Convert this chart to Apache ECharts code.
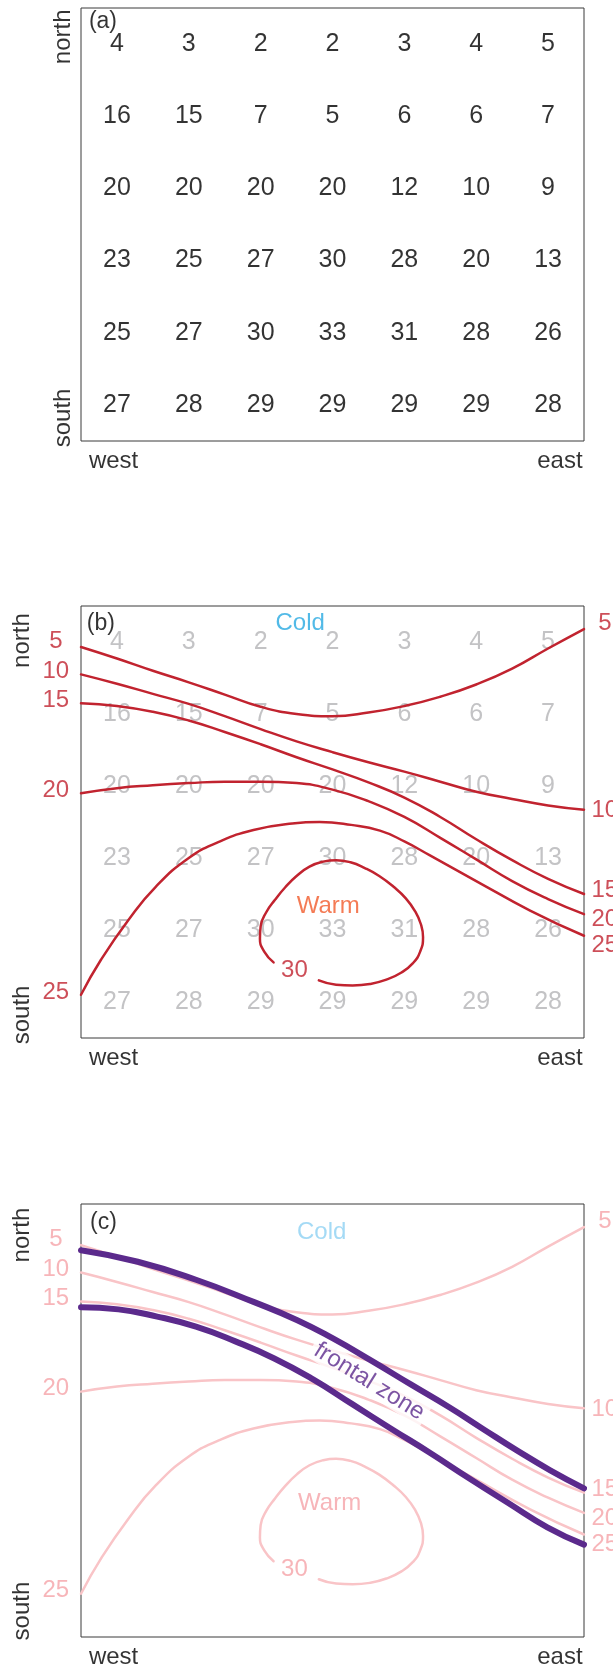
<!DOCTYPE html>
<html><head><meta charset="utf-8">
<script src="https://cdn.jsdelivr.net/npm/echarts@6/dist/echarts.min.js"></script>
<style>html,body{margin:0;padding:0;background:#fff}#c{width:613px;height:1671px}</style>
</head><body><div id="c"></div>
<script>
// ---- data (x: 0 west .. 7 east, y: 0 north .. 6 south) ----
const temps = [
  [4, 3, 2, 2, 3, 4, 5],
  [16, 15, 7, 5, 6, 6, 7],
  [20, 20, 20, 20, 12, 10, 9],
  [23, 25, 27, 30, 28, 20, 13],
  [25, 27, 30, 33, 31, 28, 26],
  [27, 28, 29, 29, 29, 29, 28]
];
const contour5 = [[0,0.57],[0.5,0.73],[1.0,0.90],[1.5,1.06],[2.0,1.23],[2.5,1.40],[3.0,1.50],[3.5,1.53],[4.0,1.48],[4.5,1.39],[5.0,1.26],[5.5,1.09],[6.0,0.87],[6.5,0.59],[7,0.32]];
const contour10 = [[0,0.95],[0.5,1.08],[1.0,1.22],[1.5,1.36],[2.0,1.53],[2.5,1.71],[3.0,1.88],[3.5,2.03],[4.0,2.17],[4.5,2.30],[5.0,2.44],[5.5,2.58],[6.0,2.68],[6.5,2.77],[7,2.83]];
const contour15 = [[0,1.35],[0.5,1.39],[1.0,1.47],[1.5,1.59],[2.0,1.75],[2.5,1.92],[3.0,2.10],[3.5,2.27],[4.0,2.45],[4.5,2.66],[5.0,2.93],[5.5,3.24],[6.0,3.53],[6.5,3.79],[7,4.00]];
const contour20 = [[0,2.60],[0.5,2.53],[1.0,2.49],[1.5,2.46],[2.0,2.44],[2.5,2.44],[3.0,2.46],[3.5,2.55],[4.0,2.71],[4.5,2.93],[5.0,3.22],[5.5,3.52],[6.0,3.82],[6.5,4.07],[7,4.28]];
const contour25 = [[0,5.40],[0.28,4.91],[0.66,4.36],[1.04,3.90],[1.5,3.50],[1.91,3.28],[2.40,3.11],[2.94,3.02],[3.32,3.00],[3.76,3.04],[4.16,3.12],[4.5,3.27],[4.85,3.46],[5.5,3.82],[6.25,4.23],[7,4.58]];
const contour30 = [[2.68,4.95],[2.55,4.80],[2.49,4.62],[2.50,4.45],[2.58,4.25],[2.70,4.08],[2.84,3.91],[3.00,3.75],[3.18,3.62],[3.37,3.55],[3.55,3.53],[3.75,3.56],[3.95,3.64],[4.15,3.75],[4.35,3.90],[4.52,4.06],[4.65,4.24],[4.73,4.42],[4.76,4.60],[4.72,4.80],[4.62,4.96],[4.46,5.09],[4.25,5.19],[4.02,5.25],[3.78,5.27],[3.55,5.26],[3.31,5.20]];
const frontUpper = [[0,0.64],[0.79,0.80],[1.60,1.05],[2.41,1.36],[3.01,1.61],[3.50,1.86],[4.04,2.17],[4.59,2.50],[5.13,2.82],[5.60,3.12],[6.06,3.41],[6.53,3.69],[7,3.94]];
const frontLower = [[0,1.43],[0.52,1.46],[1.06,1.56],[1.60,1.70],[2.14,1.90],[2.69,2.14],[3.23,2.43],[3.77,2.77],[4.31,3.11],[4.86,3.45],[5.40,3.80],[5.94,4.14],[6.49,4.48],[7,4.72]];
const contourLevels = ['5', '10', '15', '20', '25'];
const leftLabelY = [0.49, 0.91, 1.31, 2.56, 5.36];
const rightLabelY = [0.24, 2.84, 3.95, 4.35, 4.72];
const label30At = [2.97, 5.06];
const panelNames = ['(a)', '(b)', '(c)'];

// ---- styling / layout ----
const FONT = "'Liberation Sans', Arial, Helvetica, sans-serif";
const RED = '#c1232f', PINK = '#f9c4c7', PINKTXT = '#f5a3a8', PURPLE = '#5b2a8c';
const GRAY = '#b4b4b6', INK = '#000000';
const grids = [
  {left: 81, top: 8, width: 503, height: 433},
  {left: 81, top: 606, width: 503, height: 432},
  {left: 81, top: 1204, width: 503, height: 433}
].map(g => Object.assign(g, {show: true, borderColor: '#3a3a3a', borderWidth: 1, backgroundColor: 'transparent'}));

const xAxes = grids.map((g, i) => ({type: 'value', gridIndex: i, min: 0, max: 7, show: false}));
const yAxes = grids.map((g, i) => ({type: 'value', gridIndex: i, min: 0, max: 6, inverse: true, show: false}));

function textSeries(gi, items, z) {
  return {
    type: 'scatter', xAxisIndex: gi, yAxisIndex: gi, clip: false, silent: true, z: z || 5,
    symbolSize: 1, itemStyle: {color: 'rgba(0,0,0,0)'},
    data: items.map(it => ({
      value: [it.x, it.y], name: it.t,
      label: Object.assign({show: true, position: 'inside', formatter: '{b}', fontFamily: FONT,
        fontSize: 24, color: INK, align: 'center', verticalAlign: 'middle', textBorderWidth: 0}, it.s || {})
    }))
  };
}
function lineSeries(gi, pts, color, width, z) {
  return {type: 'line', xAxisIndex: gi, yAxisIndex: gi, data: pts, smooth: 0.5, showSymbol: false,
    silent: true, clip: true, z: z || 2, lineStyle: {color: color, width: width, cap: 'round', join: 'round'}};
}
function gridValues(gi, color) {
  const items = [];
  temps.forEach((row, r) => row.forEach((v, c) => items.push({x: c + 0.5, y: r + 0.5, t: String(v), s: {fontSize: 25, color: color}})));
  return textSeries(gi, items, 1);
}
function compass(gi, northX, northY, southY) {
  return textSeries(gi, [
    {x: northX, y: northY, t: 'north', s: {rotate: 90}},
    {x: northX, y: southY, t: 'south', s: {rotate: 90}},
    {x: 0.11, y: 6.28, t: 'west', s: {align: 'left'}},
    {x: 6.98, y: 6.28, t: 'east', s: {align: 'right'}},
    {x: [0.11, 0.08, 0.125][gi], y: [0.19, 0.25, 0.26][gi], t: panelNames[gi], s: {align: 'left', fontSize: 23}}
  ], 6);
}
function contourSet(gi, color, txtColor) {
  const lines = [contour5, contour10, contour15, contour20, contour25, contour30].map(p => lineSeries(gi, p, color, 2.5, 2));
  const items = [];
  contourLevels.forEach((lv, i) => {
    items.push({x: -0.35, y: leftLabelY[i], t: lv, s: {color: txtColor}});
    items.push({x: 7.29, y: rightLabelY[i], t: lv, s: {color: txtColor}});
  });
  items.push({x: label30At[0], y: label30At[1], t: '30', s: {color: txtColor}});
  lines.push(textSeries(gi, items, 3));
  return lines;
}

const series = [];
// panel (a)
series.push(gridValues(0, INK));
series.push(compass(0, -0.24, 0.40, 5.68));
// panel (b)
series.push(gridValues(1, GRAY));
series.push(...contourSet(1, RED, RED));
series.push(textSeries(1, [
  {x: 3.05, y: 0.24, t: 'Cold', s: {color: '#27a9e1'}},
  {x: 3.44, y: 4.17, t: 'Warm', s: {color: '#f15a2b'}}
], 4));
series.push(compass(1, -0.82, 0.48, 5.68));
// panel (c)
series.push(...contourSet(2, PINK, PINKTXT));
series.push(textSeries(2, [
  {x: 3.35, y: 0.39, t: 'Cold', s: {color: '#8dd1f3'}},
  {x: 3.46, y: 4.15, t: 'Warm', s: {color: PINKTXT}},
  {x: 4.01, y: 2.46, t: 'frontal zone', s: {color: PURPLE, rotate: -32, backgroundColor: '#fff', padding: [0, 4]}}
], 4));
series.push(lineSeries(2, frontUpper, PURPLE, 6, 6));
series.push(lineSeries(2, frontLower, PURPLE, 6, 6));
series.push(compass(2, -0.82, 0.43, 5.64));

const chart = echarts.init(document.getElementById('c'), null, {renderer: 'canvas'});
chart.setOption({animation: false, backgroundColor: '#fff', grid: grids, xAxis: xAxes, yAxis: yAxes, series: series});
</script></body></html>
